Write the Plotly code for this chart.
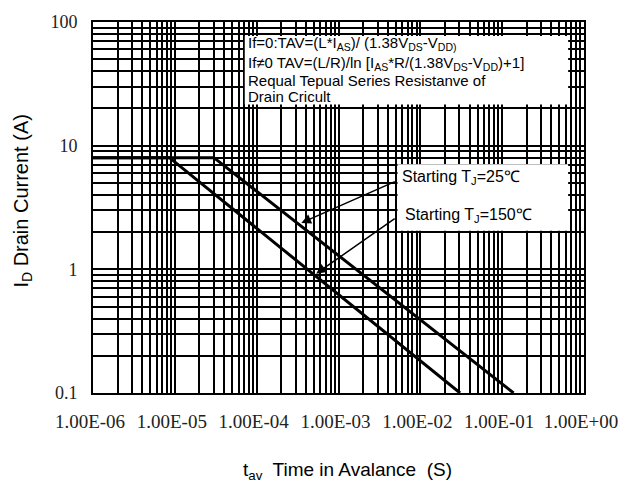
import plotly.graph_objects as go

# ---- data ----
t_25c = [1e-6, 3.0e-5, 1.38e-1]
i_25c = [8.0, 8.0, 0.1]
t_150c = [1e-6, 8.6e-6, 3.06e-2]
i_150c = [8.0, 8.0, 0.1]

x_tickvals = [1e-6, 1e-5, 1e-4, 1e-3, 1e-2, 1e-1, 1e0]
x_ticktext = ["1.00E-06", "1.00E-05", "1.00E-04", "1.00E-03", "1.00E-02", "1.00E-01", "1.00E+00"]
y_tickvals = [0.1, 1, 10, 100]
y_ticktext = ["0.1", "1", "10", "100"]

formula_lines = [
    "If=0:TAV=(L*I<sub>AS</sub>)/ (1.38V<sub>DS</sub>-V<sub>DD)</sub>",
    "If≠0 TAV=(L/R)/ln [I<sub>AS</sub>*R/(1.38V<sub>DS</sub>-V<sub>DD</sub>)+1]",
    "Requal Tepual Series Resistanve of",
    "Drain Cricult",
]
label_25 = "Starting T<sub>J</sub>=25℃"
label_150 = "Starting T<sub>J</sub>=150℃"

W, H = 630, 483
L, R, T, B = 93, 588, 20, 393


def px(xp):
    return (xp - L) / (R - L)


def py(yp):
    return (B - yp) / (B - T)


fig = go.Figure()
fig.add_trace(go.Scatter(x=t_25c, y=i_25c, mode="lines",
                         line=dict(color="black", width=3), showlegend=False))
fig.add_trace(go.Scatter(x=t_150c, y=i_150c, mode="lines",
                         line=dict(color="black", width=3), showlegend=False))

grid = dict(showgrid=True, gridcolor="black", gridwidth=1.8)

fig.update_xaxes(type="log", range=[-6, 0], tickvals=x_tickvals, ticktext=x_ticktext,
                 ticks="", showline=True, mirror=True, linecolor="black", linewidth=1.8,
                 tickfont=dict(family="Liberation Serif", size=19, color="#222"),
                 ticklabelstandoff=10, ticklabelshift=-3,
                 minor=dict(dtick="D1", ticks="", showgrid=True, gridcolor="black", gridwidth=1.8),
                 zeroline=False, **grid)
fig.update_yaxes(type="log", range=[-1, 2], tickvals=y_tickvals, ticktext=y_ticktext,
                 ticks="", showline=True, mirror=True, linecolor="black", linewidth=1.8,
                 tickfont=dict(family="Liberation Serif", size=18, color="#222"),
                 ticklabelstandoff=10,
                 minor=dict(dtick="D1", ticks="", showgrid=True, gridcolor="black", gridwidth=1.8),
                 zeroline=False, **grid)

# white boxes behind text (no curve passes through them)
fig.add_shape(type="rect", xref="paper", yref="paper", layer="above",
              x0=px(246), x1=px(572), y0=py(103), y1=py(34),
              fillcolor="white", line=dict(width=0))
fig.add_shape(type="rect", xref="paper", yref="paper", layer="above",
              x0=px(400), x1=px(572), y0=py(230), y1=py(163),
              fillcolor="white", line=dict(width=0))

txt_font = dict(family="Liberation Sans, Arial", size=15, color="black")
# first two formula lines as one block (keeps subscripts from clashing)
fig.add_annotation(xref="paper", yref="paper", x=px(247), y=py(52),
                   xanchor="left", yanchor="middle", align="left",
                   text=formula_lines[0] + "<br>" + formula_lines[1],
                   showarrow=False, font=txt_font)
for line, yc in zip(formula_lines[2:], [78.5, 94.5]):
    fig.add_annotation(xref="paper", yref="paper", x=px(247), y=py(yc),
                       xanchor="left", yanchor="middle", text=line,
                       showarrow=False, font=txt_font)

lab_font = dict(family="Liberation Sans, Arial", size=16, color="black")
fig.add_annotation(xref="paper", yref="paper", x=px(402), y=py(176),
                   xanchor="left", yanchor="middle", text=label_25,
                   showarrow=False, font=lab_font)
fig.add_annotation(xref="paper", yref="paper", x=px(406), y=py(215),
                   xanchor="left", yanchor="middle", text=label_150,
                   showarrow=False, font=lab_font)

# arrows
fig.add_annotation(xref="paper", yref="paper", x=px(303), y=py(222),
                   ax=95, ay=-42, text="", showarrow=True,
                   arrowhead=2, arrowsize=1.3, arrowwidth=1.5, arrowcolor="black")
fig.add_annotation(xref="paper", yref="paper", x=px(318), y=py(273),
                   ax=80, ay=-56, text="", showarrow=True,
                   arrowhead=2, arrowsize=1.3, arrowwidth=1.5, arrowcolor="black")

# axis titles
fig.add_annotation(xref="paper", yref="paper", x=px(350), y=py(471),
                   xanchor="center", yanchor="middle",
                   text="t<sub>av</sub>  Time in Avalance  (S)",
                   showarrow=False, font=dict(family="Liberation Sans, Arial", size=19, color="black"))
fig.add_annotation(xref="paper", yref="paper", x=px(21), y=py(200),
                   xanchor="center", yanchor="middle", textangle=-90,
                   text="I<sub>D</sub> Drain Current (A)",
                   showarrow=False, font=dict(family="Liberation Sans, Arial", size=20, color="black"))

fig.update_layout(width=W, height=H, margin=dict(l=L, r=W - R, t=T, b=H - B),
                  paper_bgcolor="white", plot_bgcolor="white", showlegend=False)

fig.write_html("out.html")
